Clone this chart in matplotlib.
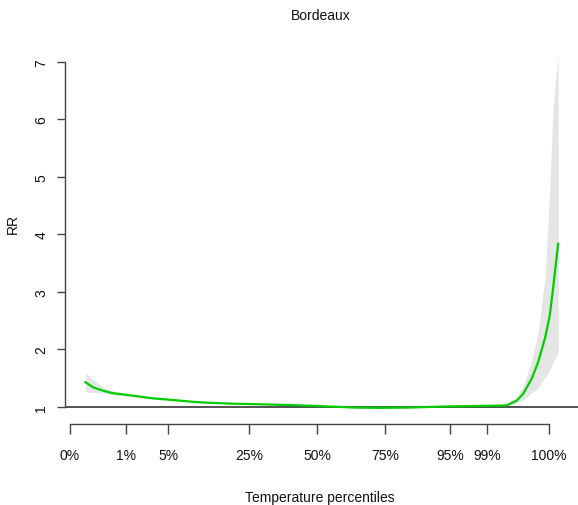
import matplotlib.pyplot as plt

plt.rcParams['font.family'] = ['Liberation Sans', 'DejaVu Sans']

# temperature (deg C) and relative risk with its confidence band
temps = [-6.3, -5.7, -4.9, -4.2, -3.1, -2.1, -1.1, 0.0, 1.0, 2.0, 3.1, 5.1, 7.2, 9.3,
         11.8, 14.5, 16.4, 18.6, 21.8, 24.9, 26.2, 27.0, 27.5, 28.15, 28.65, 29.2,
         29.55, 29.8, 30.2]
rr = [1.43, 1.34, 1.28, 1.24, 1.21, 1.18, 1.15, 1.13, 1.11, 1.09, 1.075, 1.057, 1.047,
      1.035, 1.015, 0.99, 0.985, 0.99, 1.01, 1.02, 1.025, 1.11, 1.23, 1.49, 1.78, 2.21,
      2.59, 3.05, 3.84]
rr_low = [1.26, 1.25, 1.24, 1.21, 1.19, 1.165, 1.14, 1.12, 1.10, 1.08, 1.065, 1.05, 1.04,
          1.03, 1.01, 0.985, 0.98, 0.985, 1.0, 1.005, 1.0, 1.07, 1.12, 1.25, 1.33, 1.52,
          1.65, 1.78, 1.95]
rr_high = [1.60, 1.47, 1.34, 1.28, 1.235, 1.20, 1.165, 1.145, 1.12, 1.10, 1.085, 1.065,
           1.055, 1.05, 1.025, 1.0, 0.995, 1.0, 1.025, 1.04, 1.06, 1.17, 1.37, 1.80, 2.30,
           3.3, 4.8, 6.2, 7.14]

# temperatures at which the percentile ticks sit
pct_labels = ['0%', '1%', '5%', '25%', '50%', '75%', '95%', '99%', '100%']
pct_temps = [-7.5, -3.18, 0.07, 6.32, 11.57, 16.82, 21.84, 24.7, 29.49]

W, H = 578, 506
fig = plt.figure(figsize=(W / 100, H / 100), dpi=100)
left, right, bottom, top = 65, 578, 425, 49
ax = fig.add_axes([left / W, 1 - bottom / H, (right - left) / W, (bottom - top) / H])

txt = '#111111'
axc = '#444444'
fs = 10

ax.fill_between(temps, rr_low, rr_high, color='#e5e5e5', lw=0)
ax.axhline(1, color='#333333', lw=1.2)
ax.plot(temps, rr, color='#00cd00', lw=1.6)

ax.set_xlim(-7.886, 31.73)
ax.set_ylim(0.704, 7.243)

for s in ['top', 'right']:
    ax.spines[s].set_visible(False)
ax.spines['left'].set_bounds(1, 7)
ax.spines['bottom'].set_bounds(pct_temps[0], pct_temps[-1])
for s in ['left', 'bottom']:
    ax.spines[s].set_color(axc)
    ax.spines[s].set_linewidth(1.0)

ax.set_yticks(range(1, 8))
ax.set_yticklabels([str(v) for v in range(1, 8)], rotation=90, va='center')
ax.set_xticks(pct_temps)
ax.set_xticklabels(pct_labels)
ax.tick_params(axis='y', length=6, width=1, color=axc, labelsize=fs, labelcolor=txt, pad=6)
ax.tick_params(axis='x', length=7.5, width=1, color=axc, labelsize=fs, labelcolor=txt, pad=10)

ax.set_xlabel('Temperature percentiles', fontsize=fs, color=txt, va='baseline')
ax.xaxis.set_label_coords((319.5 - left) / (right - left), (bottom - 501.7) / (bottom - top))
ax.set_ylabel('RR', fontsize=fs, color=txt, va='center')
ax.yaxis.set_label_coords((13 - left) / (right - left), (bottom - 224) / (bottom - top))

ax.text((320.5 - left) / (right - left), (bottom - 20) / (bottom - top), 'Bordeaux',
        transform=ax.transAxes, ha='center', va='baseline', fontsize=fs, color=txt)

fig.savefig('out.png', dpi=100)
